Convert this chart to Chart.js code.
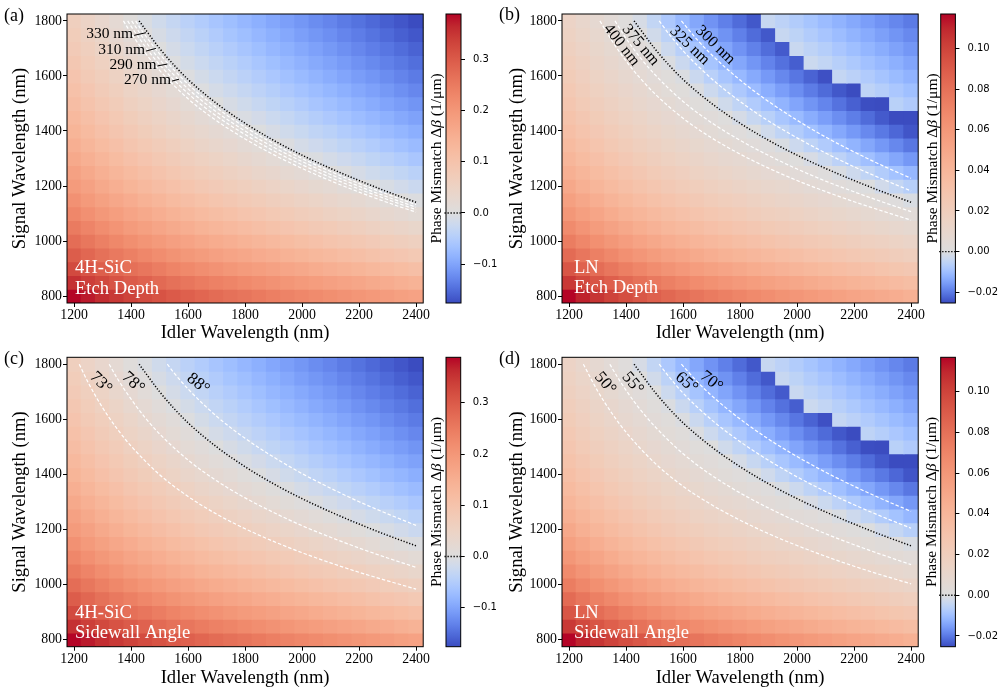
<!DOCTYPE html>
<html><head><meta charset="utf-8">
<script src="https://cdn.jsdelivr.net/npm/chart.js@4.4.1/dist/chart.umd.min.js"></script>
<style>
html,body{margin:0;padding:0;background:#fff;}
#wrap{position:relative;width:1003px;height:695px;overflow:hidden;background:#fff;}
canvas{position:absolute;}
.pl{position:absolute;font-family:"Liberation Serif","Times New Roman",serif;font-size:18px;line-height:18px;color:#000;}
</style></head><body><div id="wrap">
<canvas id="ha" width="430" height="345" style="left:0px;top:0px"></canvas>
<canvas id="ca" width="75" height="345" style="left:425px;top:0px"></canvas>
<canvas id="hb" width="430" height="345" style="left:495px;top:0px"></canvas>
<canvas id="cb" width="83" height="345" style="left:920px;top:0px"></canvas>
<canvas id="hc" width="430" height="355" style="left:0px;top:340px"></canvas>
<canvas id="cc" width="75" height="355" style="left:425px;top:340px"></canvas>
<canvas id="hd" width="430" height="355" style="left:495px;top:340px"></canvas>
<canvas id="cd" width="83" height="355" style="left:920px;top:340px"></canvas>
<div class="pl" style="left:4px;top:6px">(a)</div>
<div class="pl" style="left:499px;top:5px">(b)</div>
<div class="pl" style="left:4px;top:349px">(c)</div>
<div class="pl" style="left:499px;top:349px">(d)</div>
</div>
<script>
// ---------------- data ----------------
const idlerNm = [1200,1250,1300,1350,1400,1450,1500,1550,1600,1650,1700,1750,1800,1850,1900,1950,2000,2050,2100,2150,2200,2250,2300,2350,2400];
const signalNm = [800,850,900,950,1000,1050,1100,1150,1200,1250,1300,1350,1400,1450,1500,1550,1600,1650,1700,1750,1800];

// phase mismatch (1/um), rows = signal 800..1800, cols = idler 1200..2400
const sicDeltaBeta = [
[0.389,0.374,0.359,0.346,0.333,0.322,0.311,0.301,0.291,0.282,0.274,0.266,0.259,0.251,0.243,0.236,0.229,0.222,0.216,0.209,0.202,0.196,0.189,0.182,0.176],
[0.355,0.339,0.325,0.312,0.299,0.288,0.277,0.266,0.257,0.248,0.240,0.232,0.224,0.217,0.209,0.202,0.195,0.188,0.181,0.174,0.168,0.161,0.155,0.148,0.141],
[0.324,0.308,0.294,0.281,0.268,0.257,0.246,0.235,0.226,0.217,0.209,0.201,0.193,0.186,0.178,0.171,0.164,0.157,0.150,0.143,0.137,0.130,0.124,0.117,0.110],
[0.297,0.281,0.266,0.253,0.241,0.229,0.219,0.208,0.199,0.190,0.181,0.173,0.166,0.158,0.151,0.144,0.137,0.130,0.123,0.116,0.110,0.103,0.096,0.090,0.083],
[0.272,0.256,0.242,0.228,0.216,0.204,0.194,0.183,0.174,0.165,0.157,0.149,0.141,0.133,0.126,0.119,0.112,0.105,0.098,0.091,0.085,0.078,0.071,0.065,0.058],
[0.249,0.234,0.219,0.206,0.193,0.182,0.171,0.161,0.151,0.142,0.134,0.126,0.118,0.111,0.103,0.096,0.089,0.082,0.076,0.069,0.062,0.055,0.049,0.042,0.036],
[0.229,0.213,0.199,0.186,0.173,0.162,0.151,0.141,0.131,0.122,0.114,0.106,0.098,0.091,0.083,0.076,0.069,0.062,0.055,0.048,0.042,0.035,0.029,0.022,0.016],
[0.211,0.195,0.180,0.167,0.155,0.143,0.133,0.122,0.113,0.104,0.095,0.087,0.080,0.072,0.065,0.058,0.051,0.044,0.037,0.030,0.024,0.017,0.010,0.004,-0.003],
[0.193,0.178,0.163,0.150,0.137,0.126,0.115,0.105,0.095,0.086,0.078,0.070,0.063,0.055,0.047,0.040,0.033,0.026,0.020,0.013,0.006,-0.001,-0.008,-0.016,-0.024],
[0.178,0.162,0.148,0.134,0.122,0.110,0.100,0.089,0.080,0.071,0.063,0.055,0.047,0.039,0.032,0.025,0.018,0.011,0.004,-0.003,-0.011,-0.019,-0.026,-0.034,-0.042],
[0.163,0.148,0.133,0.120,0.107,0.096,0.085,0.075,0.065,0.056,0.048,0.040,0.032,0.025,0.017,0.010,0.003,-0.004,-0.012,-0.020,-0.028,-0.036,-0.043,-0.051,-0.059],
[0.150,0.134,0.120,0.107,0.094,0.083,0.072,0.062,0.052,0.043,0.035,0.027,0.019,0.012,0.004,-0.003,-0.012,-0.020,-0.028,-0.036,-0.043,-0.051,-0.059,-0.067,-0.074],
[0.137,0.122,0.107,0.094,0.081,0.070,0.059,0.049,0.039,0.031,0.022,0.014,0.007,-0.001,-0.010,-0.018,-0.026,-0.035,-0.042,-0.051,-0.058,-0.066,-0.074,-0.081,-0.089],
[0.126,0.110,0.096,0.083,0.070,0.059,0.048,0.038,0.028,0.019,0.011,0.003,-0.006,-0.014,-0.023,-0.031,-0.040,-0.048,-0.056,-0.064,-0.072,-0.079,-0.087,-0.095,-0.102],
[0.115,0.100,0.085,0.072,0.059,0.048,0.037,0.027,0.017,0.008,0.000,-0.009,-0.018,-0.027,-0.036,-0.044,-0.052,-0.061,-0.068,-0.076,-0.084,-0.092,-0.100,-0.107,-0.115],
[0.105,0.090,0.075,0.062,0.049,0.038,0.027,0.017,0.008,-0.002,-0.012,-0.021,-0.030,-0.039,-0.047,-0.056,-0.064,-0.072,-0.080,-0.088,-0.096,-0.103,-0.111,-0.119,-0.127],
[0.096,0.080,0.066,0.053,0.040,0.029,0.018,0.008,-0.002,-0.013,-0.023,-0.032,-0.041,-0.050,-0.058,-0.067,-0.075,-0.083,-0.091,-0.099,-0.107,-0.114,-0.122,-0.130,-0.138],
[0.087,0.071,0.057,0.044,0.031,0.020,0.009,-0.002,-0.013,-0.023,-0.033,-0.042,-0.051,-0.060,-0.069,-0.077,-0.085,-0.094,-0.101,-0.109,-0.117,-0.125,-0.133,-0.140,-0.148],
[0.078,0.063,0.048,0.035,0.023,0.011,0.000,-0.012,-0.023,-0.033,-0.043,-0.052,-0.061,-0.070,-0.079,-0.087,-0.095,-0.103,-0.111,-0.119,-0.127,-0.135,-0.142,-0.150,-0.158],
[0.071,0.055,0.040,0.027,0.015,0.003,-0.009,-0.021,-0.032,-0.042,-0.052,-0.062,-0.070,-0.079,-0.088,-0.096,-0.105,-0.113,-0.120,-0.129,-0.136,-0.144,-0.152,-0.160,-0.167],
[0.063,0.047,0.033,0.020,0.007,-0.005,-0.018,-0.030,-0.041,-0.051,-0.061,-0.070,-0.079,-0.088,-0.097,-0.105,-0.113,-0.122,-0.129,-0.138,-0.145,-0.153,-0.161,-0.168,-0.176]
];
const lnDeltaBeta = [
[0.117,0.111,0.1054,0.1005,0.0959,0.0918,0.0879,0.0843,0.081,0.0779,0.075,0.0724,0.0699,0.0674,0.065,0.0627,0.0605,0.0582,0.0562,0.054,0.052,0.05,0.048,0.0461,0.0441],
[0.1039,0.0981,0.0928,0.0881,0.0836,0.0797,0.076,0.0725,0.0694,0.0665,0.0638,0.0612,0.0588,0.0565,0.0541,0.052,0.0499,0.0477,0.0458,0.0437,0.0418,0.04,0.0381,0.0362,0.0344],
[0.0925,0.0869,0.0818,0.0773,0.073,0.0693,0.0657,0.0624,0.0594,0.0566,0.054,0.0516,0.0493,0.047,0.0448,0.0428,0.0408,0.0387,0.0369,0.0349,0.0331,0.0313,0.0296,0.0278,0.0261],
[0.0828,0.0774,0.0725,0.0682,0.0641,0.0605,0.0571,0.0539,0.051,0.0483,0.0458,0.0435,0.0413,0.0392,0.037,0.0351,0.0331,0.0312,0.0294,0.0275,0.0258,0.0241,0.0224,0.0208,0.0191],
[0.0743,0.0691,0.0644,0.0602,0.0562,0.0527,0.0494,0.0464,0.0436,0.041,0.0386,0.0364,0.0343,0.0322,0.0302,0.0283,0.0264,0.0246,0.0229,0.0211,0.0195,0.0178,0.0162,0.0146,0.013],
[0.0668,0.0618,0.0572,0.0531,0.0493,0.0459,0.0428,0.0398,0.0372,0.0347,0.0323,0.0302,0.0282,0.0262,0.0242,0.0224,0.0206,0.0189,0.0172,0.0155,0.014,0.0124,0.0108,0.0093,0.0078],
[0.0603,0.0554,0.051,0.047,0.0433,0.0401,0.037,0.0341,0.0316,0.0292,0.0269,0.0248,0.0229,0.021,0.0191,0.0174,0.0156,0.014,0.0124,0.0107,0.0092,0.0077,0.0062,0.0048,0.0033],
[0.0546,0.0499,0.0455,0.0417,0.0381,0.0349,0.032,0.0292,0.0267,0.0244,0.0222,0.0202,0.0183,0.0164,0.0146,0.0129,0.0113,0.0096,0.0081,0.0065,0.0051,0.0036,0.0022,0.0008,-0.0009],
[0.0493,0.0447,0.0405,0.0367,0.0333,0.0302,0.0273,0.0246,0.0222,0.0199,0.0178,0.0159,0.0141,0.0123,0.0105,0.0089,0.0073,0.0057,0.0042,0.0027,0.0013,-0.0002,-0.0023,-0.0044,-0.0065],
[0.0447,0.0402,0.0361,0.0325,0.0291,0.0261,0.0233,0.0206,0.0183,0.0161,0.0141,0.0122,0.0104,0.0087,0.007,0.0054,0.0038,0.0023,0.0009,-0.0009,-0.003,-0.0051,-0.0072,-0.0093,-0.0114],
[0.0405,0.0361,0.0321,0.0286,0.0252,0.0223,0.0196,0.017,0.0147,0.0126,0.0106,0.0088,0.0071,0.0054,0.0037,0.0022,0.0007,-0.0012,-0.0033,-0.0056,-0.0077,-0.0098,-0.0119,-0.014,-0.0161],
[0.0367,0.0325,0.0286,0.0251,0.0218,0.019,0.0163,0.0138,0.0116,0.0095,0.0076,0.0058,0.0041,0.0025,0.0009,-0.0009,-0.0032,-0.0054,-0.0075,-0.0098,-0.0119,-0.014,-0.0161,-0.0182,-0.0203],
[0.0333,0.0291,0.0252,0.0218,0.0187,0.0159,0.0133,0.0108,0.0087,0.0066,0.0048,0.003,0.0014,-0.0003,-0.0027,-0.005,-0.0072,-0.0095,-0.0116,-0.0138,-0.0159,-0.018,-0.0201,-0.0222,-0.0243],
[0.0302,0.0261,0.0223,0.019,0.0159,0.0132,0.0106,0.0082,0.0061,0.0041,0.0023,0.0006,-0.0015,-0.0039,-0.0063,-0.0086,-0.0108,-0.0131,-0.0152,-0.0174,-0.0195,-0.0216,-0.0237,-0.0253,-0.0253],
[0.0273,0.0233,0.0196,0.0163,0.0133,0.0106,0.0081,0.0058,0.0037,0.0018,0.0,-0.0026,-0.005,-0.0074,-0.0098,-0.012,-0.0143,-0.0165,-0.0186,-0.0209,-0.023,-0.0251,-0.0253,-0.0061,-0.0076],
[0.0247,0.0208,0.0171,0.014,0.011,0.0083,0.0059,0.0036,0.0016,-0.0005,-0.0032,-0.0057,-0.0081,-0.0105,-0.0129,-0.0152,-0.0174,-0.0197,-0.0218,-0.024,-0.0253,-0.0053,-0.0068,-0.0084,-0.0099],
[0.0223,0.0184,0.0148,0.0117,0.0088,0.0062,0.0038,0.0016,-0.0006,-0.0035,-0.0062,-0.0087,-0.0111,-0.0135,-0.0159,-0.0182,-0.0204,-0.0227,-0.0248,-0.0044,-0.0059,-0.0075,-0.009,-0.0106,-0.0121],
[0.02,0.0162,0.0127,0.0096,0.0067,0.0042,0.0019,-0.0005,-0.0035,-0.0063,-0.009,-0.0116,-0.014,-0.0164,-0.0188,-0.021,-0.0233,-0.0033,-0.0048,-0.0065,-0.008,-0.0096,-0.0111,-0.0127,-0.0142],
[0.0179,0.0142,0.0107,0.0077,0.0049,0.0024,0.0001,-0.0032,-0.0062,-0.009,-0.0117,-0.0143,-0.0167,-0.0191,-0.0215,-0.0237,-0.0036,-0.0053,-0.0068,-0.0085,-0.01,-0.0116,-0.0131,-0.0146,-0.0162],
[0.016,0.0123,0.0089,0.0059,0.0031,0.0007,-0.0024,-0.0057,-0.0087,-0.0116,-0.0143,-0.0168,-0.0192,-0.0216,-0.024,-0.0039,-0.0055,-0.0072,-0.0087,-0.0103,-0.0119,-0.0134,-0.015,-0.0165,-0.018],
[0.0142,0.0105,0.0072,0.0042,0.0015,-0.0014,-0.0048,-0.0081,-0.0111,-0.014,-0.0167,-0.0192,-0.0216,-0.024,-0.004,-0.0056,-0.0073,-0.0089,-0.0105,-0.0121,-0.0136,-0.0152,-0.0167,-0.0183,-0.0198]
];

const xTickNm = [1200,1400,1600,1800,2000,2200,2400];
const yTickNm = [800,1000,1200,1400,1600,1800];
const sicBarTicks = [-0.1,0.0,0.1,0.2,0.3];
const lnBarTicks = [-0.02,0.00,0.02,0.04,0.06,0.08,0.10];

// contour lines [idler, signal]
const zeroContour = [[1428,1800],[1450,1769],[1500,1700],[1550,1640],[1600,1587],[1700,1500],[1800,1428],[1900,1366],[2000,1312],[2100,1264],[2200,1220],[2300,1179],[2400,1141]];
const sicDepth330 = [[1416,1800],[1433,1772],[1450,1747],[1500,1680],[1600,1570],[1700,1484],[1800,1414],[1900,1354],[2000,1300],[2100,1253],[2200,1209],[2300,1170],[2400,1132]];
const sicDepth310 = [[1402,1800],[1425,1764],[1450,1726],[1500,1660],[1600,1553],[1700,1469],[1800,1400],[1900,1341],[2000,1289],[2100,1242],[2200,1199],[2300,1160],[2400,1123]];
const sicDepth290 = [[1388,1800],[1400,1780],[1450,1706],[1500,1641],[1600,1536],[1700,1454],[1800,1387],[1900,1328],[2000,1277],[2100,1231],[2200,1189],[2300,1151],[2400,1114]];
const sicDepth270 = [[1373,1800],[1400,1755],[1450,1683],[1500,1620],[1600,1517],[1700,1437],[1800,1371],[1900,1314],[2000,1264],[2100,1219],[2200,1178],[2300,1140],[2400,1105]];
const lnDepth400 = [[1308,1800],[1350,1728],[1400,1654],[1450,1591],[1500,1536],[1600,1446],[1700,1375],[1800,1316],[1900,1265],[2000,1220],[2100,1180],[2200,1143],[2300,1109],[2400,1076]];
const lnDepth375 = [[1361,1800],[1400,1736],[1450,1666],[1500,1606],[1600,1507],[1700,1430],[1800,1366],[1900,1311],[2000,1262],[2100,1218],[2200,1179],[2300,1142],[2400,1107]];
const lnDepth325 = [[1516,1800],[1550,1753],[1600,1691],[1700,1590],[1800,1507],[1900,1436],[2000,1375],[2100,1320],[2200,1270],[2300,1225],[2400,1182]];
const lnDepth300 = [[1594,1800],[1650,1731],[1700,1677],[1800,1585],[1900,1507],[2000,1439],[2100,1378],[2200,1324],[2300,1274],[2400,1228]];
const sicAngle73 = [[1218,1800],[1250,1732],[1300,1642],[1350,1567],[1400,1503],[1500,1399],[1600,1320],[1700,1256],[1800,1203],[1900,1157],[2000,1116],[2100,1079],[2200,1045],[2300,1014],[2400,984]];
const sicAngle78 = [[1323,1800],[1350,1751],[1400,1673],[1450,1605],[1500,1547],[1600,1452],[1700,1377],[1800,1315],[1900,1262],[2000,1214],[2100,1172],[2200,1133],[2300,1097],[2400,1063]];
const sicAngle88 = [[1527,1800],[1550,1769],[1600,1710],[1700,1611],[1800,1531],[1900,1463],[2000,1403],[2100,1350],[2200,1301],[2300,1257],[2400,1215]];
const lnAngle50 = [[1250,1800],[1300,1703],[1350,1622],[1400,1553],[1500,1442],[1600,1357],[1700,1290],[1800,1234],[1900,1185],[2000,1142],[2100,1103],[2200,1067],[2300,1034],[2400,1003]];
const lnAngle55 = [[1343,1800],[1350,1787],[1400,1705],[1450,1635],[1500,1575],[1600,1475],[1700,1397],[1800,1333],[1900,1278],[2000,1229],[2100,1185],[2200,1145],[2300,1108],[2400,1073]];
const lnAngle65 = [[1516,1800],[1550,1755],[1600,1695],[1700,1598],[1800,1519],[1900,1451],[2000,1391],[2100,1338],[2200,1290],[2300,1246],[2400,1205]];
const lnAngle70 = [[1594,1800],[1650,1736],[1700,1686],[1800,1601],[1900,1528],[2000,1465],[2100,1408],[2200,1357],[2300,1310],[2400,1266]];

// ---------------- styling helpers ----------------
const SERIF = '"Liberation Serif","Times New Roman",Times,serif';
const SANS = '"DejaVu Sans","Verdana",sans-serif';
const COOLWARM = [[59,76,192],[68,90,204],[77,104,215],[87,117,225],[98,130,234],[108,142,241],[119,154,247],[130,165,251],[141,176,254],[152,185,255],[163,194,255],[174,201,253],[184,208,249],[194,213,244],[204,217,238],[213,219,230],[221,221,221],[229,216,209],[236,211,197],[241,204,185],[245,196,173],[247,187,160],[247,177,148],[246,165,135],[244,154,123],[241,141,111],[236,127,99],[229,112,88],[222,96,77],[213,80,66],[203,62,56],[192,40,47],[180,4,38]];
function rgbStr(c){return 'rgb('+Math.round(c[0])+','+Math.round(c[1])+','+Math.round(c[2])+')';}
function cmap(t){
  t = Math.max(0, Math.min(1, t));
  const f = t*(COOLWARM.length-1); const i = Math.min(COOLWARM.length-2, Math.floor(f)); const u = f-i;
  const a = COOLWARM[i], b = COOLWARM[i+1];
  return rgbStr([a[0]+(b[0]-a[0])*u, a[1]+(b[1]-a[1])*u, a[2]+(b[2]-a[2])*u]);
}
function twoSlope(v, vmin, vmax){ return v >= 0 ? 0.5 + 0.5*v/vmax : 0.5 - 0.5*v/vmin; }
function fmtMinus(s){ return s.replace('-', '\u2212'); }

const annotPlugin = {
  id: 'annot',
  afterDatasetsDraw(chart, args, o) {
    const {ctx, chartArea: a} = chart; const xs = chart.scales.x, ys = chart.scales.y;
    (o.curveLabels || []).forEach(l => {
      const px = xs.getPixelForValue(l.x), py = ys.getPixelForValue(l.y);
      ctx.save();
      ctx.fillStyle = '#000'; ctx.font = (l.size || 15.5) + 'px ' + SERIF;
      if (l.lx !== undefined) {
        ctx.textAlign = 'right'; ctx.textBaseline = 'middle';
        ctx.fillText(l.text, px, py);
        ctx.beginPath(); ctx.moveTo(px + 1, py + 1); ctx.lineTo(xs.getPixelForValue(l.lx), ys.getPixelForValue(l.ly));
        ctx.strokeStyle = '#000'; ctx.lineWidth = 1; ctx.stroke();
      } else {
        ctx.translate(px, py); ctx.rotate(l.rot * Math.PI / 180);
        ctx.textAlign = 'center'; ctx.textBaseline = 'middle';
        ctx.fillText(l.text, 0, 0);
      }
      ctx.restore();
    });
    if (o.material) {
      ctx.save();
      ctx.fillStyle = '#fff'; ctx.font = '18.6px ' + SERIF; ctx.textAlign = 'left'; ctx.textBaseline = 'middle';
      o.material.lines.forEach((t, i) => ctx.fillText(t, xs.getPixelForValue(o.material.x), ys.getPixelForValue(o.material.ys[i])));
      ctx.restore();
    }
    ctx.save(); ctx.strokeStyle = '#000'; ctx.lineWidth = 1;
    ctx.strokeRect(a.left, a.top, a.right - a.left, a.bottom - a.top);
    ctx.restore();
  }
};

function makeHeat(id, grid, curves, annot, lay) {
  const flat = grid.flat(); const vmin = Math.min(...flat), vmax = Math.max(...flat);
  const hy = (signalNm[1] - signalNm[0]) / 2, hx = (idlerNm[1] - idlerNm[0]) / 2;
  const cells = [];
  signalNm.forEach((s, r) => idlerNm.forEach((w, c) => cells.push({x: w, y: [s - hy, s + hy], v: grid[r][c]})));
  const ds = [{type: 'bar', data: cells, backgroundColor: c => (c.raw && c.raw.v !== undefined) ? cmap(twoSlope(c.raw.v, vmin, vmax)) : '#ddd',
    borderWidth: 0, inflateAmount: 0.6, barPercentage: 1, categoryPercentage: 1, grouped: false, order: 10}];
  curves.forEach(cv => ds.push({type: 'line', data: cv.pts.map(p => ({x: p[0], y: p[1]})), borderColor: cv.color, borderWidth: cv.width,
    borderDash: cv.dash, pointRadius: 0, pointHoverRadius: 0, fill: false, cubicInterpolationMode: 'monotone', order: cv.order}));
  const grid0 = {display: true, drawOnChartArea: false, drawTicks: true, tickLength: 4, tickWidth: 1, tickColor: '#000', color: '#000', offset: false};
  new Chart(document.getElementById(id), {
    type: 'bar', data: {datasets: ds},
    plugins: [annotPlugin],
    options: {
      responsive: false, maintainAspectRatio: false, animation: false, devicePixelRatio: 1, events: [],
      layout: {padding: {top: lay.top, right: lay.right, left: 0, bottom: 0}},
      plugins: {legend: {display: false}, tooltip: {enabled: false}, annot: annot},
      scales: {
        x: {type: 'linear', min: idlerNm[0] - hx, max: idlerNm[idlerNm.length - 1] + hx, offset: false,
          afterBuildTicks: s => { s.ticks = xTickNm.map(v => ({value: v})); },
          afterFit: s => { s.height = lay.xh; },
          grid: grid0, border: {display: false},
          ticks: {color: '#000', font: {family: SERIF, size: 13.8}, padding: 0, maxRotation: 0, autoSkip: false, callback: v => String(v)},
          title: {display: true, text: 'Idler Wavelength (nm)', color: '#000', font: {family: SERIF, size: 18.6}, padding: {top: 0, bottom: lay.xtp}}},
        y: {type: 'linear', min: signalNm[0] - hy, max: signalNm[signalNm.length - 1] + hy, offset: false,
          afterBuildTicks: s => { s.ticks = yTickNm.map(v => ({value: v})); },
          afterFit: s => { s.width = lay.yw; },
          grid: grid0, border: {display: false},
          ticks: {color: '#000', font: {family: SERIF, size: 13.8}, padding: 1, autoSkip: false, callback: v => String(v)},
          title: {display: true, text: 'Signal Wavelength (nm)', color: '#000', font: {family: SERIF, size: 18.6}, padding: {top: lay.ytp, bottom: 0}}}
      }
    }
  });
}

const cbarPlugin = {
  id: 'cbar',
  afterDatasetsDraw(chart, args, o) {
    const {ctx, chartArea: a} = chart; const ys = chart.scales.y;
    ctx.save();
    const y0 = ys.getPixelForValue(0);
    ctx.beginPath(); ctx.setLineDash([1.3, 1.7]); ctx.moveTo(a.left - 1.5, y0); ctx.lineTo(a.right, y0);
    ctx.strokeStyle = '#000'; ctx.lineWidth = 1.4; ctx.stroke(); ctx.setLineDash([]);
    ctx.lineWidth = 1; ctx.strokeRect(a.left, a.top, a.right - a.left, a.bottom - a.top);
    ctx.translate(o.labelX, (a.top + a.bottom) / 2); ctx.rotate(-Math.PI / 2);
    const fs = '15.5px ';
    const parts = [['Phase Mismatch \u0394', fs + SERIF], ['\u03B2', 'italic ' + fs + SERIF], [' (1/\u03BCm)', fs + SERIF]];
    let total = 0; parts.forEach(p => { ctx.font = p[1]; total += ctx.measureText(p[0]).width; });
    let x = -total / 2; ctx.fillStyle = '#000'; ctx.textBaseline = 'middle'; ctx.textAlign = 'left';
    parts.forEach(p => { ctx.font = p[1]; ctx.fillText(p[0], x, 0); x += ctx.measureText(p[0]).width; });
    ctx.restore();
  }
};

function makeCbar(id, grid, tickVals, decimals, lay) {
  const flat = grid.flat(); const vmin = Math.min(...flat), vmax = Math.max(...flat);
  new Chart(document.getElementById(id), {
    type: 'bar',
    data: {labels: [''], datasets: [{data: [[vmin, vmax]], borderWidth: 0, barPercentage: 1, categoryPercentage: 1,
      backgroundColor: c => {
        const ch = c.chart; const ys = ch.scales.y; if (!ys || !ch.chartArea) return '#ccc';
        const p0 = ys.getPixelForValue(vmin), p1 = ys.getPixelForValue(vmax);
        const g = ch.ctx.createLinearGradient(0, p0, 0, p1);
        COOLWARM.forEach((col, i) => {
          const t = i / (COOLWARM.length - 1);
          const v = t < 0.5 ? vmin * (1 - 2 * t) : vmax * (2 * t - 1);
          g.addColorStop(Math.max(0, Math.min(1, (ys.getPixelForValue(v) - p0) / (p1 - p0))), rgbStr(col));
        });
        return g;
      }}]},
    plugins: [cbarPlugin],
    options: {
      responsive: false, maintainAspectRatio: false, animation: false, devicePixelRatio: 1, events: [],
      layout: {padding: {top: lay.top, bottom: lay.bottom, left: lay.left, right: 0}},
      plugins: {legend: {display: false}, tooltip: {enabled: false}, cbar: {labelX: lay.labelX}},
      scales: {
        x: {display: false},
        y: {position: 'right', min: vmin, max: vmax,
          afterBuildTicks: s => { s.ticks = tickVals.map(v => ({value: v})); },
          afterFit: s => { s.width = lay.yw; },
          grid: {display: true, drawOnChartArea: false, drawTicks: true, tickLength: 4, tickColor: '#000', color: '#000'},
          border: {display: false},
          ticks: {color: '#000', font: {family: SANS, size: 10}, padding: 8, autoSkip: false, callback: v => fmtMinus(Number(v).toFixed(decimals))}}
      }
    }
  });
}

const WHITE = '#ffffff';
function dashed(pts) { return {pts, color: WHITE, width: 1.2, dash: [3.5, 2], order: 2}; }
const dotted = {pts: zeroContour, color: '#000', width: 1.5, dash: [1.2, 1.8], order: 1};

makeHeat('ha', sicDeltaBeta, [dashed(sicDepth330), dashed(sicDepth310), dashed(sicDepth290), dashed(sicDepth270), dotted], {
  curveLabels: [
    {text: '330 nm', x: 1407, y: 1751, lx: 1452, ly: 1757},
    {text: '310 nm', x: 1449, y: 1694, lx: 1487, ly: 1700},
    {text: '290 nm', x: 1489, y: 1640, lx: 1527, ly: 1643},
    {text: '270 nm', x: 1540, y: 1585, lx: 1568, ly: 1588}],
  material: {lines: ['4H-SiC', 'Etch Depth'], x: 1203, ys: [902, 826]}
}, {top: 14, right: 6, xh: 42, yw: 67, xtp: 1, ytp: 9});

makeHeat('hb', lnDeltaBeta, [dashed(lnDepth400), dashed(lnDepth375), dashed(lnDepth325), dashed(lnDepth300), dotted], {
  curveLabels: [
    {text: '400 nm', x: 1384, y: 1712, rot: 52, size: 16},
    {text: '375 nm', x: 1451, y: 1712, rot: 50, size: 16},
    {text: '325 nm', x: 1623, y: 1710, rot: 44, size: 16},
    {text: '300 nm', x: 1713, y: 1712, rot: 44, size: 16}],
  material: {lines: ['LN', 'Etch Depth'], x: 1217, ys: [902, 830]}
}, {top: 14, right: 6.7, xh: 42, yw: 67, xtp: 1, ytp: 10.5});

makeHeat('hc', sicDeltaBeta, [dashed(sicAngle73), dashed(sicAngle78), dashed(sicAngle88), dotted], {
  curveLabels: [
    {text: '73\u00B0', x: 1294, y: 1733, rot: 45, size: 17},
    {text: '78\u00B0', x: 1407, y: 1733, rot: 42, size: 17},
    {text: '88\u00B0', x: 1635, y: 1729, rot: 38, size: 17}],
  material: {lines: ['4H-SiC', 'Sidewall Angle'], x: 1203, ys: [898, 823]}
}, {top: 17.3, right: 6, xh: 48.3, yw: 67, xtp: 5.5, ytp: 9});

makeHeat('hd', lnDeltaBeta, [dashed(lnAngle50), dashed(lnAngle55), dashed(lnAngle65), dashed(lnAngle70), dotted], {
  curveLabels: [
    {text: '50\u00B0', x: 1326, y: 1731, rot: 50, size: 17},
    {text: '55\u00B0', x: 1423, y: 1731, rot: 50, size: 17},
    {text: '65\u00B0', x: 1612, y: 1733, rot: 40, size: 17},
    {text: '70\u00B0', x: 1699, y: 1737, rot: 38, size: 17}],
  material: {lines: ['LN', 'Sidewall Angle'], x: 1217, ys: [898, 823]}
}, {top: 17.3, right: 6, xh: 48.3, yw: 67, xtp: 5.5, ytp: 10.5});

makeCbar('ca', sicDeltaBeta, sicBarTicks, 1, {top: 14, bottom: 42, left: 21, yw: 39, labelX: 11.7});
makeCbar('cb', lnDeltaBeta, lnBarTicks, 2, {top: 14, bottom: 42, left: 20.7, yw: 47.6, labelX: 13});
makeCbar('cc', sicDeltaBeta, sicBarTicks, 1, {top: 17.3, bottom: 48.3, left: 21, yw: 39.3, labelX: 11.7});
makeCbar('cd', lnDeltaBeta, lnBarTicks, 2, {top: 17.3, bottom: 48.3, left: 20.7, yw: 47.6, labelX: 12.3});
</script>
</body></html>
